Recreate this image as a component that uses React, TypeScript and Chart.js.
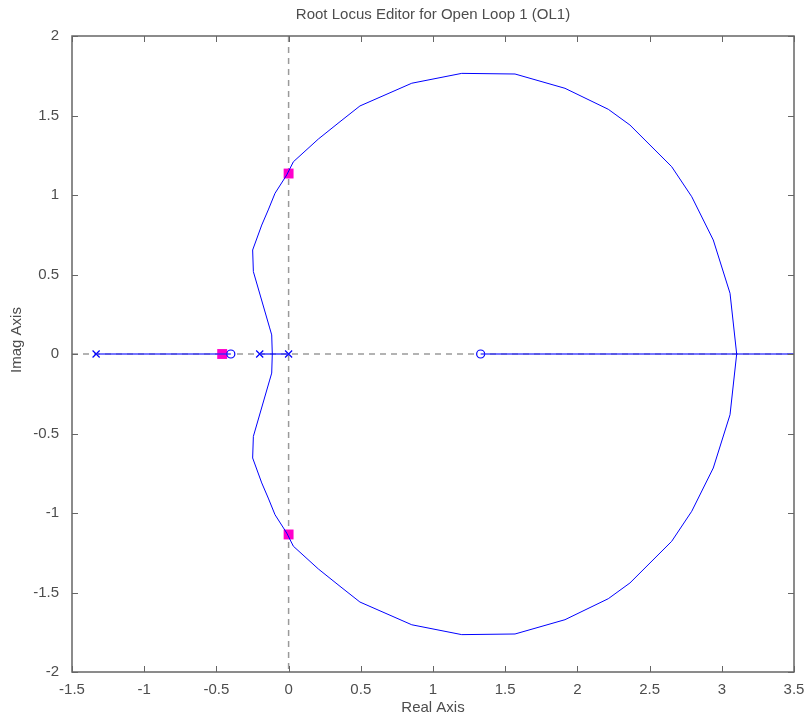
import { useEffect, useRef } from "react";
import { Chart, registerables } from "chart.js";

Chart.register(...registerables);

const TITLE = "Root Locus Editor for Open Loop 1 (OL1)";
const X_LABEL = "Real Axis";
const Y_LABEL = "Imag Axis";
const X_TICKS = [-1.5, -1, -0.5, 0, 0.5, 1, 1.5, 2, 2.5, 3, 3.5];
const Y_TICKS = [-2, -1.5, -1, -0.5, 0, 0.5, 1, 1.5, 2];

// Complex branch (upper half-plane)
const upperX = [-0.113, -0.117, -0.131, -0.244, -0.249, -0.186, -0.141, -0.094, -0.013, 0.033, 0.206, 0.356, 0.494, 0.853, 1.199, 1.568, 1.914, 2.214, 2.364, 2.653, 2.792, 2.941, 3.057, 3.103];
const upperY = [0, 0.12, 0.164, 0.518, 0.654, 0.811, 0.906, 1.011, 1.126, 1.209, 1.352, 1.461, 1.56, 1.703, 1.765, 1.761, 1.671, 1.539, 1.44, 1.178, 0.989, 0.717, 0.382, 0];
// Complex branch (lower half-plane)
const lowerX = [-0.113, -0.117, -0.131, -0.244, -0.249, -0.186, -0.141, -0.094, -0.013, 0.033, 0.206, 0.356, 0.494, 0.853, 1.199, 1.568, 1.914, 2.214, 2.364, 2.653, 2.792, 2.941, 3.057, 3.103];
const lowerY = [0, -0.12, -0.164, -0.518, -0.654, -0.811, -0.906, -1.011, -1.126, -1.209, -1.352, -1.461, -1.56, -1.703, -1.765, -1.761, -1.671, -1.539, -1.44, -1.178, -0.989, -0.717, -0.382, 0];

// Real-axis branches [start, end]
const realSegStart = [-1.333, -0.2, 1.33];
const realSegEnd = [-0.4, 0, 3.5];

// Open-loop poles and zeros (on real axis)
const poleX = [-1.333, -0.2, 0];
const zeroX = [-0.4, 1.33];

// Closed-loop poles
const clPoleX = [-0.46, 0, 0];
const clPoleY = [0, 1.135, -1.135];

const BLUE = "#0000ff";
const GRAY_TEXT = "#4d4d4d";
const FRAME = "#666666";
const FONT = "Liberation Sans, Arial, sans-serif";

const decorPlugin = {
  id: "decor",
  beforeDatasetsDraw(chart: any) {
    const { ctx, chartArea: a, scales } = chart;
    const x0 = scales.x.getPixelForValue(0);
    const y0 = scales.y.getPixelForValue(0);
    ctx.save();
    ctx.strokeStyle = "#9a9a9a";
    ctx.lineWidth = 1.5;
    ctx.setLineDash([6, 5]);
    ctx.beginPath();
    ctx.moveTo(x0, a.top);
    ctx.lineTo(x0, a.bottom);
    ctx.moveTo(a.left, y0);
    ctx.lineTo(a.right, y0);
    ctx.stroke();
    ctx.restore();
  },
  afterDraw(chart: any) {
    const { ctx, chartArea: a, scales } = chart;
    ctx.save();
    // frame
    ctx.strokeStyle = FRAME;
    ctx.lineWidth = 1.5;
    ctx.strokeRect(a.left, a.top, a.right - a.left, a.bottom - a.top);
    // inward ticks
    ctx.lineWidth = 1;
    const tl = 6;
    ctx.beginPath();
    X_TICKS.forEach((v) => {
      const px = Math.round(scales.x.getPixelForValue(v)) + 0.5;
      ctx.moveTo(px, a.bottom);
      ctx.lineTo(px, a.bottom - tl);
      ctx.moveTo(px, a.top);
      ctx.lineTo(px, a.top + tl);
    });
    Y_TICKS.forEach((v) => {
      const py = Math.round(scales.y.getPixelForValue(v)) + 0.5;
      ctx.moveTo(a.left, py);
      ctx.lineTo(a.left + tl, py);
      ctx.moveTo(a.right, py);
      ctx.lineTo(a.right - tl, py);
    });
    ctx.stroke();
    // titles
    ctx.fillStyle = GRAY_TEXT;
    ctx.font = `15px ${FONT}`;
    ctx.textAlign = "center";
    ctx.textBaseline = "middle";
    const cx = (a.left + a.right) / 2;
    ctx.fillText(TITLE, cx, 15);
    ctx.fillText(X_LABEL, cx, 708);
    ctx.translate(17, 340);
    ctx.rotate(-Math.PI / 2);
    ctx.fillText(Y_LABEL, 0, 0);
    ctx.restore();
  },
};

export default function App() {
  const ref = useRef<HTMLCanvasElement | null>(null);

  useEffect(() => {
    if (!ref.current) return;
    const lineDefaults = {
      showLine: true,
      pointRadius: 0,
      borderColor: BLUE,
      backgroundColor: BLUE,
      borderWidth: 1,
      fill: false,
    };
    const datasets: any[] = [
      {
        ...lineDefaults,
        data: upperX.map((x, i) => ({ x, y: upperY[i] })),
      },
      {
        ...lineDefaults,
        data: lowerX.map((x, i) => ({ x, y: lowerY[i] })),
      },
      ...realSegStart.map((s, i) => ({
        ...lineDefaults,
        borderColor: "rgba(40,40,255,0.85)",
        borderWidth: 1.6,
        data: [
          { x: s, y: 0 },
          { x: realSegEnd[i], y: 0 },
        ],
      })),
      {
        showLine: false,
        data: poleX.map((x) => ({ x, y: 0 })),
        pointStyle: "crossRot",
        pointRadius: 5,
        pointBorderColor: BLUE,
        pointBorderWidth: 1.2,
        borderColor: BLUE,
      },
      {
        showLine: false,
        data: zeroX.map((x) => ({ x, y: 0 })),
        pointStyle: "circle",
        pointRadius: 4,
        pointBorderColor: BLUE,
        pointBackgroundColor: "rgba(255,255,255,1)",
        pointBorderWidth: 1.2,
        borderColor: BLUE,
      },
      {
        showLine: false,
        data: clPoleX.map((x, i) => ({ x, y: clPoleY[i] })),
        pointStyle: "rect",
        pointRadius: 7,
        pointBorderWidth: 0,
        pointBackgroundColor: "#ff00cc",
        pointBorderColor: "#ff00cc",
      },
    ];

    const tickFont = { family: FONT, size: 15 };
    const chart = new Chart(ref.current, {
      type: "scatter",
      data: { datasets },
      plugins: [decorPlugin],
      options: {
        animation: false,
        responsive: false,
        maintainAspectRatio: false,
        layout: { padding: { left: 0, right: 15, top: 36, bottom: 0 } },
        plugins: {
          legend: { display: false },
          tooltip: { enabled: false },
          title: { display: false },
        },
        scales: {
          x: {
            type: "linear",
            min: -1.5,
            max: 3.5,
            afterBuildTicks: (s: any) => {
              s.ticks = X_TICKS.map((v) => ({ value: v }));
            },
            afterFit: (s: any) => {
              s.height = 48;
            },
            grid: { display: false },
            border: { display: false },
            ticks: {
              autoSkip: false,
              maxRotation: 0,
              padding: 1,
              color: GRAY_TEXT,
              font: tickFont,
              callback: (v: any) => String(v),
            },
          },
          y: {
            type: "linear",
            min: -2,
            max: 2,
            afterBuildTicks: (s: any) => {
              s.ticks = Y_TICKS.map((v) => ({ value: v }));
            },
            afterFit: (s: any) => {
              s.width = 72;
            },
            grid: { display: false },
            border: { display: false },
            ticks: {
              autoSkip: false,
              padding: 5,
              color: GRAY_TEXT,
              font: tickFont,
              callback: (v: any) => String(v),
            },
          },
        },
      } as any,
    });
    return () => chart.destroy();
  }, []);

  return (
    <div style={{ position: "absolute", left: 0, top: 0, width: 809, height: 720, background: "#fff" }}>
      <canvas ref={ref} width={809} height={720} style={{ display: "block" }} />
    </div>
  );
}
